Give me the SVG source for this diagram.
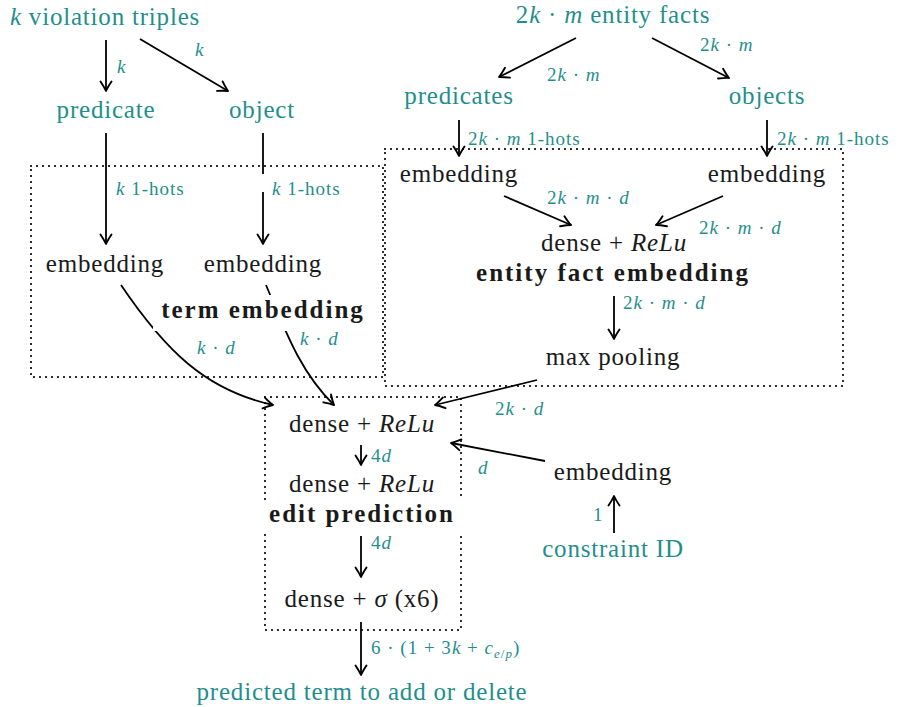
<svg xmlns="http://www.w3.org/2000/svg" width="901" height="707" viewBox="0 0 901 707" font-family="'Liberation Serif', 'DejaVu Serif', serif">
<defs>
<marker id="ah" markerWidth="14" markerHeight="14" refX="0" refY="0" viewBox="-12 -7 14 14" orient="auto" markerUnits="userSpaceOnUse">
<path d="M-9.5,-5.5 Q-3.5,-1.5 0,0 Q-3.5,1.5 -9.5,5.5" fill="none" stroke="#000" stroke-width="1.9" stroke-linecap="round" stroke-linejoin="round"/>
</marker>
<style>
.n{font-family:'Liberation Serif','DejaVu Serif',serif;font-size:25px;letter-spacing:0.8px;fill:#1a1a1a;text-anchor:middle;}
.t{font-family:'Liberation Serif','DejaVu Serif',serif;font-size:25px;letter-spacing:0.8px;fill:#1f8f8c;text-anchor:middle;}
.b{font-family:'Liberation Serif','DejaVu Serif',serif;font-size:25px;letter-spacing:2px;fill:#1a1a1a;text-anchor:middle;font-weight:bold;}
.l{font-family:'Liberation Serif','DejaVu Serif',serif;font-size:19px;letter-spacing:1px;fill:#1f8f8c;}
.i{font-style:italic;}
.e{fill:none;stroke:#000;stroke-width:1.8;marker-end:url(#ah);}
.el{fill:none;stroke:#000;stroke-width:1.8;}
.box{fill:none;stroke:#000;stroke-width:2.2;stroke-dasharray:0 6;stroke-linecap:round;}
</style>
</defs>
<rect width="901" height="707" fill="#fff"/>

<g id="boxes">
<rect class="box" x="31" y="166" width="352" height="211"/>
<rect class="box" x="385" y="149" width="458" height="237"/>
<rect class="box" x="265" y="397" width="196" height="233"/>
</g>

<g id="connectors">
<line class="e" x1="106" y1="40" x2="106" y2="91"/>
<line class="e" x1="140" y1="39" x2="228" y2="91"/>
<line class="e" x1="106" y1="133" x2="106" y2="244"/>
<line class="el" x1="263" y1="133" x2="263" y2="174"/>
<line class="e" x1="263" y1="192" x2="263" y2="244"/>
<path class="e" d="M121,285 C165,350 205,390 273,405"/>
<path class="e" d="M266,285 C285,330 300,372 334,405"/>
<line class="e" x1="576" y1="38" x2="499" y2="77"/>
<line class="e" x1="652" y1="38" x2="729" y2="78"/>
<line class="e" x1="459" y1="120" x2="459" y2="156"/>
<line class="e" x1="767" y1="120" x2="767" y2="156"/>
<line class="e" x1="504" y1="196" x2="571" y2="225"/>
<line class="e" x1="723" y1="196" x2="656" y2="225"/>
<line class="e" x1="614" y1="296" x2="614" y2="339"/>
<line class="e" x1="537" y1="380" x2="435" y2="405"/>
<line class="e" x1="545" y1="461" x2="451" y2="443"/>
<line class="e" x1="614" y1="533" x2="614" y2="496"/>
<line class="e" x1="361" y1="445" x2="361" y2="465"/>
<line class="e" x1="361" y1="536" x2="361" y2="577"/>
<line class="e" x1="361" y1="622" x2="361" y2="675"/>
</g>

<g id="labels">
<text class="l i" x="117" y="73">k</text>
<text class="l i" x="195" y="56">k</text>
<text class="l" x="116" y="195"><tspan class="i">k</tspan> 1-hots</text>
<text class="l" x="272" y="195"><tspan class="i">k</tspan> 1-hots</text>
<text class="l" x="197" y="354"><tspan class="i">k</tspan> · <tspan class="i">d</tspan></text>
<text class="l" x="300" y="345"><tspan class="i">k</tspan> · <tspan class="i">d</tspan></text>
<text class="l" x="547" y="81">2<tspan class="i">k</tspan> · <tspan class="i">m</tspan></text>
<text class="l" x="700" y="51">2<tspan class="i">k</tspan> · <tspan class="i">m</tspan></text>
<text class="l" x="468" y="145">2<tspan class="i">k</tspan> · <tspan class="i">m</tspan> 1-hots</text>
<text class="l" x="777" y="145">2<tspan class="i">k</tspan> · <tspan class="i">m</tspan> 1-hots</text>
<text class="l" x="547" y="204">2<tspan class="i">k</tspan> · <tspan class="i">m</tspan> · <tspan class="i">d</tspan></text>
<text class="l" x="699" y="234">2<tspan class="i">k</tspan> · <tspan class="i">m</tspan> · <tspan class="i">d</tspan></text>
<text class="l" x="623" y="309">2<tspan class="i">k</tspan> · <tspan class="i">m</tspan> · <tspan class="i">d</tspan></text>
<text class="l" x="495" y="415">2<tspan class="i">k</tspan> · <tspan class="i">d</tspan></text>
<text class="l i" x="478" y="474">d</text>
<text class="l" x="593" y="521">1</text>
<text class="l" x="371" y="462">4<tspan class="i">d</tspan></text>
<text class="l" x="371" y="549">4<tspan class="i">d</tspan></text>
<text class="l" x="371" y="654">6 · (1 + 3<tspan class="i">k</tspan> + <tspan class="i">c</tspan><tspan class="i" font-size="13" dy="4">e</tspan><tspan font-size="13">/</tspan><tspan class="i" font-size="13">p</tspan><tspan dy="-4">)</tspan></text>
</g>

<g id="n-violation"><text class="t" x="105" y="25"><tspan class="i">k</tspan> violation triples</text></g>
<g id="n-predicate"><text class="t" x="106" y="118">predicate</text></g>
<g id="n-object"><text class="t" x="262" y="118">object</text></g>
<g id="n-emb1"><text class="n" x="105" y="272">embedding</text></g>
<g id="n-emb2"><text class="n" x="263" y="272">embedding</text></g>
<g id="n-term"><rect x="153" y="295" width="219" height="36" fill="#fff"/><text class="b" x="263" y="318">term embedding</text></g>
<g id="n-facts"><text class="t" x="613" y="23">2<tspan class="i">k</tspan> · <tspan class="i">m</tspan> entity facts</text></g>
<g id="n-predicates"><text class="t" x="459" y="104">predicates</text></g>
<g id="n-objects"><text class="t" x="767" y="104">objects</text></g>
<g id="n-emb3"><text class="n" x="459" y="182">embedding</text></g>
<g id="n-emb4"><text class="n" x="767" y="182">embedding</text></g>
<g id="n-dense1"><text class="n" x="614" y="251">dense + <tspan class="i">ReLu</tspan></text></g>
<g id="n-efe"><text class="b" x="613" y="281">entity fact embedding</text></g>
<g id="n-maxpool"><text class="n" x="613" y="365">max pooling</text></g>
<g id="n-dense2"><text class="n" x="362" y="432">dense + <tspan class="i">ReLu</tspan></text></g>
<g id="n-dense3"><text class="n" x="362" y="492">dense + <tspan class="i">ReLu</tspan></text></g>
<g id="n-edit"><rect x="261" y="500" width="204" height="34" fill="#fff"/><text class="b" x="362" y="522">edit prediction</text></g>
<g id="n-dense4"><text class="n" x="362" y="607">dense + <tspan class="i">σ</tspan> (x6)</text></g>
<g id="n-out"><text class="t" x="362" y="700">predicted term to add or delete</text></g>
<g id="n-emb5"><text class="n" x="613" y="480">embedding</text></g>
<g id="n-cid"><text class="t" x="613" y="557">constraint ID</text></g>
</svg>
